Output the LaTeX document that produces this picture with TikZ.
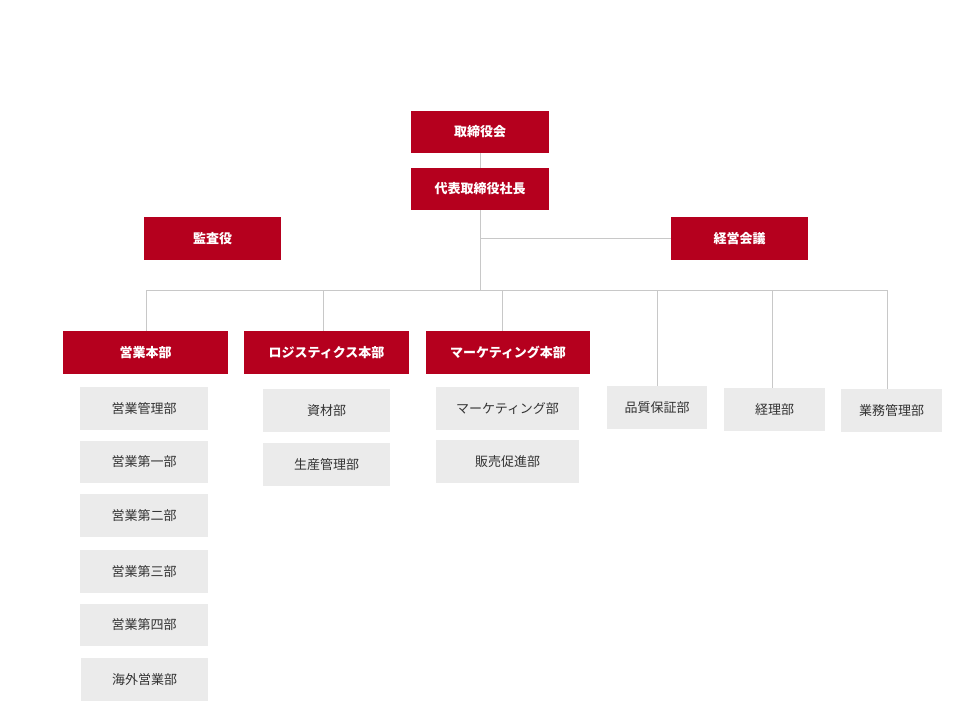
\documentclass[tikz,border=0pt]{standalone}
\usepackage{fontspec}
\setmainfont{Noto Sans CJK JP}
\definecolor{rd}{HTML}{B5001E}
\definecolor{gb}{HTML}{EBEBEB}
\definecolor{ln}{HTML}{C8C8C8}
\begin{document}
\begin{tikzpicture}[x=1pt,y=-1pt,
 red/.style={fill=rd,text=white,font=\fontsize{13}{15}\selectfont\bfseries,inner sep=0},
 gray/.style={fill=gb,text=black!80,font=\fontsize{13}{15}\selectfont,inner sep=0},
 ln/.style={draw=ln,line width=0.8pt}]
\useasboundingbox (0,0) rectangle (960,720);
\newcommand{\bx}[7]{\node[#1,minimum width=#4pt,minimum height=#5pt] (#6) at (#2,#3) {#7};}
\bx{red}{480}{132}{138}{42}{bod}{取締役会}
\bx{red}{480}{189}{138}{42}{ceo}{代表取締役社長}
\bx{red}{212.5}{238.5}{137}{43}{aud}{監査役}
\bx{red}{739.5}{238.5}{137}{43}{mgm}{経営会議}
\bx{red}{145.5}{352.5}{165}{43}{sales}{営業本部}
\bx{red}{326.5}{352.5}{165}{43}{log}{ロジスティクス本部}
\bx{red}{508}{352.5}{164}{43}{mkt}{マーケティング本部}
\bx{gray}{657}{407.5}{100}{43}{qa}{品質保証部}
\bx{gray}{774.5}{409.5}{101}{43}{acc}{経理部}
\bx{gray}{891.5}{410.5}{101}{43}{ops}{業務管理部}
\bx{gray}{144}{408.5}{128}{43}{s1}{営業管理部}
\bx{gray}{144}{462}{128}{42}{s2}{営業第一部}
\bx{gray}{144}{515.5}{128}{43}{s3}{営業第二部}
\bx{gray}{144}{571.5}{128}{43}{s4}{営業第三部}
\bx{gray}{144}{625}{128}{42}{s5}{営業第四部}
\bx{gray}{144.5}{679.5}{127}{43}{s6}{海外営業部}
\bx{gray}{326.5}{410.5}{127}{43}{l1}{資材部}
\bx{gray}{326.5}{464.5}{127}{43}{l2}{生産管理部}
\bx{gray}{507.5}{408.5}{143}{43}{m1}{マーケティング部}
\bx{gray}{507.5}{461.5}{143}{43}{m2}{販売促進部}
\coordinate (h) at (480,290);
\coordinate (hl) at (146,290);
\coordinate (hr) at (887,290);
\draw[ln] (bod.south) -- (ceo.north);
\draw[ln] (ceo.south) -- (h);
\draw[ln] (480,238.5) -- (mgm.west);
\draw[ln] (hl) -- (hr);
\draw[ln] (hl) -- (sales.north-|hl);
\draw[ln] (323,290) -- (323,331);
\draw[ln] (502,290) -- (502,331);
\draw[ln] (657,290) -- (qa.north);
\draw[ln] (772,290) -- (772,388);
\draw[ln] (hr) -- (887,389);
\end{tikzpicture}
\end{document}
